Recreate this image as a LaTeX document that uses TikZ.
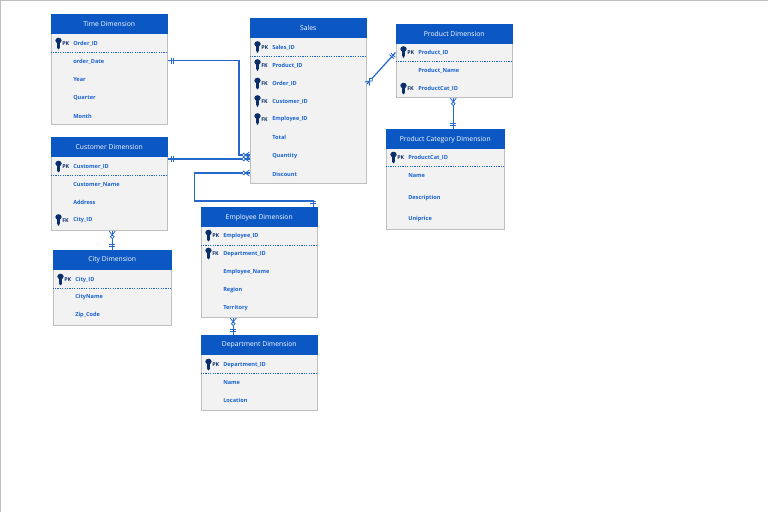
\documentclass[tikz,border=0pt]{standalone}
\usepackage{xcolor}
\usepackage{fontspec}
\setmainfont{Open Sans}
\usepackage{tikz}
\usetikzlibrary{calc, decorations.markings}

\definecolor{headblue}{HTML}{0B57C4}
\definecolor{fieldblue}{HTML}{1A62D0}
\definecolor{linkblue}{HTML}{2468CC}
\definecolor{keynavy}{HTML}{0A2F6B}
\definecolor{boxgrey}{HTML}{F2F2F2}
\definecolor{edgegrey}{HTML}{BFBFBF}

\tikzset{
    tablebox/.style={draw=edgegrey, fill=boxgrey, line width=0.75pt, inner sep=0pt},
    headbox/.style={fill=headblue, text=white, font=\fontsize{5.1}{6}\selectfont, inner sep=0pt, minimum height=15pt},
    fieldtext/.style={anchor=west, yshift=-0.75pt, inner sep=0pt, text=fieldblue, font=\fontsize{4.2}{5}\selectfont\bfseries},
    keytext/.style={anchor=west, inner sep=0pt, text=keynavy, font=\fontsize{4}{5}\selectfont\bfseries},
    keyline/.style={fieldblue, line width=0.75pt, dash pattern=on 1pt off 0.8pt},
    link/.style={linkblue, line width=0.9pt},
    onemany/.style={link, decoration={markings,
        mark=at position 2.7pt with {
            \draw[linkblue, line width=0.6pt] (0,-3) -- (0,3);
            \draw[linkblue, line width=0.6pt] (2,-3) -- (2,3);
        },
        mark=at position -0.01pt with {
            \draw[linkblue, line width=0.6pt] (0,-3) -- (-4,0) -- (0,3);
            \draw[linkblue, line width=0.6pt, fill=white] (-5.8,0) circle (1.8);
        }}, postaction={decorate}},
    keyicon/.pic={
        \fill[keynavy] (0,-2.5) ellipse (3.2 and 2.8);
        \fill[keynavy] (-1.3,-2) rectangle (1.3,4.5);
        \fill[keynavy] (0,5.2) circle (1.1);
    }
}

\begin{document}
\begin{tikzpicture}[x=0.75pt, y=-0.75pt]
    \useasboundingbox (0,0) rectangle (768,512);
    \draw[edgegrey, line width=0.75pt] (0,512) -- (0,0) -- (768,0);

    % tables: name / left / top / width / height / dotted line / title
    \foreach \tab/\xa/\ya/\w/\h/\dy/\title in {
        time/50.5/14/116.5/110/52/Time Dimension,
        customer/50.5/137/116.5/93/175.5/Customer Dimension,
        city/52.5/250/118.5/75/288.5/City Dimension,
        sales/249.5/18/116.5/165/56/Sales,
        product/395.5/24/116.5/73/61/Product Dimension,
        category/385.5/129/118.5/100/166/Product Category Dimension,
        employee/200.5/207/116.5/110/245/Employee Dimension,
        department/200.5/335/116.5/75/373.5/Department Dimension}
    {
        \node[tablebox, anchor=north west, minimum width=\w*0.75pt, minimum height=\h*0.75pt] (\tab) at (\xa,\ya) {};
        \node[headbox, anchor=north, minimum width=\w*0.75pt] (\tab head) at (\tab.north) {\title};
        \draw[keyline] (\tab.west |- 0,\dy) -- (\tab.east |- 0,\dy);
    }

    % fields
    \foreach \nm/\x/\y/\txt in {
        timeid/73/43/Order\_ID, timedate/73/60.5/order\_Date, timeyear/73/78.5/Year, timequarter/73/97/Quarter, timemonth/73/115/Month,
        custid/73/166/Customer\_ID, custname/73/184/Customer\_Name, custaddr/73/201/Address, custcity/73/219.5/City\_ID,
        cityid/75/279/City\_ID, cityname/75/296.5/CityName, cityzip/75/314.5/Zip\_Code,
        salesid/272/46.5/Sales\_ID, salesprod/272/64.5/Product\_ID, salesorder/272/83/Order\_ID, salescust/272/100.5/Customer\_ID,
        salesemp/272/118.5/Employee\_ID, salestotal/272/136.5/Total, salesqty/272/155/Quantity, salesdisc/272/173/Discount,
        prodid/418/51.5/Product\_ID, prodname/418/70/Product\_Name, prodcat/418/88/ProductCat\_ID,
        catid/408/157/ProductCat\_ID, catname/408/175/Name, catdesc/408/197/Description, catprice/408/218/Uniprice,
        empid/223/235/Employee\_ID, empdept/223/253/Department\_ID, empname/223/271.5/Employee\_Name, empregion/223/289.5/Region, empterr/223/307.5/Territory,
        deptid/223/364/Department\_ID, deptname/223/381.5/Name, deptloc/223/399.5/Location}
    {
        \node[fieldtext] (\nm) at (\x,\y) {\txt};
    }

    % keys
    \foreach \nm/\lab in {
        timeid/PK, custid/PK, custcity/FK, cityid/PK,
        salesid/PK, salesprod/FK, salesorder/FK, salescust/FK, salesemp/FK,
        prodid/PK, prodcat/FK, catid/PK, empid/PK, empdept/FK, deptid/PK}
    {
        \pic at ($(\nm.west)+(-14.5,-1)$) {keyicon};
        \node[keytext] at ($(\nm.west)+(-11,0)$) {\lab};
    }

    % relations
    \draw[onemany] ([yshift=0.75pt]time.east |- timedate) -- ++(71,0) |- ([yshift=0.75pt]sales.west |- salesqty);
    \draw[onemany] ([yshift=-2.25pt]customer.east |- salesqty) -- ([yshift=-2.25pt]sales.west |- salesqty);
    \draw[onemany] ([xshift=40.5pt]employee.north) -- ++(0,-6) -- ++(-118.5,0) |- ([yshift=0.75pt]sales.west |- salesdisc);
    \draw[onemany] (product.west |- prodid) -- (sales.east |- salesorder);
    \draw[onemany] ([xshift=6pt]category.north) -- ([xshift=6pt]category.north |- product.south);
    \draw[onemany] (city.north) -- (city.north |- customer.south);
    \draw[onemany] ([xshift=-19.5pt]department.north) -- ([xshift=-19.5pt]department.north |- employee.south);
\end{tikzpicture}
\end{document}
